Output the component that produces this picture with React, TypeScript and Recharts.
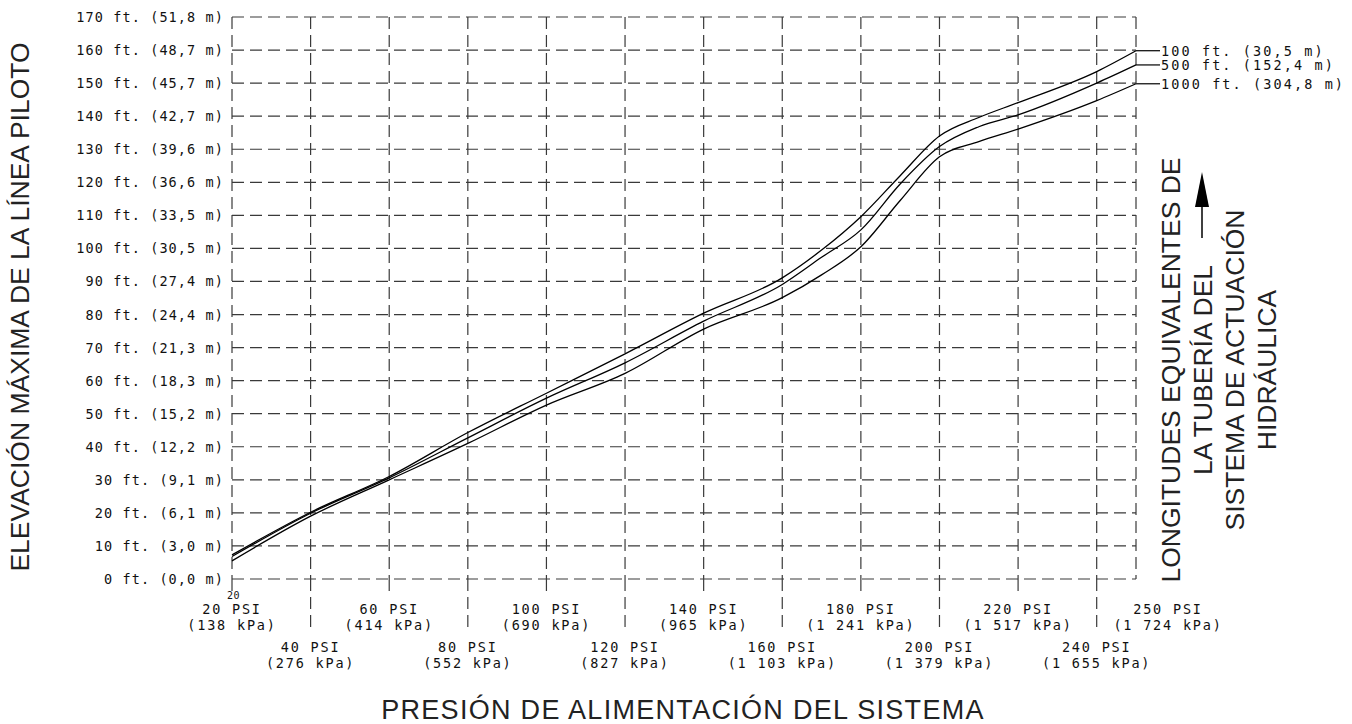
import { LineChart, Line, XAxis, YAxis, CartesianGrid } from 'recharts'

// presión de alimentación (PSI) y elevación máxima (ft) para cada longitud de tubería
const PSI = [20, 40, 60, 80, 100, 120, 140, 160, 170, 180, 190, 200, 210, 220, 240, 250]
const ELEV_100FT = [7.3, 20.2, 31.0, 44.3, 56.2, 68.1, 80.4, 91.1, 99.5, 109.6, 122.0, 134.0, 139.6, 144.1, 153.5, 159.8]
const ELEV_500FT = [6.8, 19.9, 30.6, 42.7, 54.7, 65.4, 78.0, 89.1, 97.3, 105.6, 119.5, 130.8, 136.8, 140.4, 150.0, 155.5]
const ELEV_1000FT = [5.5, 19.0, 30.0, 41.0, 52.6, 62.2, 75.6, 85.1, 92.0, 100.5, 114.5, 127.7, 132.3, 136.1, 144.7, 149.8]

const SERIES_LABELS = ['100 ft. (30,5 m)', '500 ft. (152,4 m)', '1000 ft. (304,8 m)']

const X_TICKS = [20, 40, 60, 80, 100, 120, 140, 160, 180, 200, 220, 240, 250]
const X_PSI_LABELS = [
  '20 PSI', '40 PSI', '60 PSI', '80 PSI', '100 PSI', '120 PSI', '140 PSI',
  '160 PSI', '180 PSI', '200 PSI', '220 PSI', '240 PSI', '250 PSI',
]
const X_KPA_LABELS = [
  '(138 kPa)', '(276 kPa)', '(414 kPa)', '(552 kPa)', '(690 kPa)', '(827 kPa)', '(965 kPa)',
  '(1 103 kPa)', '(1 241 kPa)', '(1 379 kPa)', '(1 517 kPa)', '(1 655 kPa)', '(1 724 kPa)',
]

const Y_TICKS = [0, 10, 20, 30, 40, 50, 60, 70, 80, 90, 100, 110, 120, 130, 140, 150, 160, 170]
const Y_LABELS = [
  '0 ft. (0,0 m)', '10 ft. (3,0 m)', '20 ft. (6,1 m)', '30 ft. (9,1 m)', '40 ft. (12,2 m)',
  '50 ft. (15,2 m)', '60 ft. (18,3 m)', '70 ft. (21,3 m)', '80 ft. (24,4 m)', '90 ft. (27,4 m)',
  '100 ft. (30,5 m)', '110 ft. (33,5 m)', '120 ft. (36,6 m)', '130 ft. (39,6 m)', '140 ft. (42,7 m)',
  '150 ft. (45,7 m)', '160 ft. (48,7 m)', '170 ft. (51,8 m)',
]

const RIGHT_TITLE = ['LONGITUDES EQUIVALENTES DE', 'LA TUBERÍA DEL', 'SISTEMA DE ACTUACIÓN', 'HIDRÁULICA']

const W = 1352
const H = 724
const CAD_FONT = '"DejaVu Sans Mono", monospace'
const TITLE_FONT = '"Liberation Sans", Arial, sans-serif'
const GRID = '#3a3a3a'
const DASH = '12 6'

const data = PSI.map((p, i) => ({
  psi: p,
  l100: ELEV_100FT[i],
  l500: ELEV_500FT[i],
  l1000: ELEV_1000FT[i],
}))

const cadText = { fontFamily: CAD_FONT, fontSize: 13.5, fill: '#111' }

function XTick(props: any) {
  const { x, y, payload } = props
  const idx = X_TICKS.indexOf(payload.value)
  const lower = idx % 2 === 1
  const last = idx === X_TICKS.length - 1
  const cx = last ? x + 32 : x
  const base = lower ? y + 73 : y + 35
  return (
    <g>
      {!last && (
        <line x1={x} y1={y} x2={x} y2={y + (lower ? 54 : 18)} stroke={GRID} strokeWidth={1.2} strokeDasharray={DASH} />
      )}
      {idx === 0 && (
        <text x={x - 5} y={y + 20} letterSpacing={0.5} style={{ ...cadText, fontSize: 10 }}>20</text>
      )}
      <text x={cx} y={base} textAnchor="middle" letterSpacing={1.8} style={cadText}>{X_PSI_LABELS[idx]}</text>
      <text x={cx} y={base + 16} textAnchor="middle" letterSpacing={1.8} style={cadText}>{X_KPA_LABELS[idx]}</text>
    </g>
  )
}

function YTick(props: any) {
  const { x, y, payload } = props
  const idx = Y_TICKS.indexOf(payload.value)
  return (
    <text x={x} y={y + 5} textAnchor="end" letterSpacing={1.1} style={cadText}>{Y_LABELS[idx]}</text>
  )
}

function endLabel(text: string) {
  return (props: any) => {
    const { x, y, index } = props
    if (index !== PSI.length - 1) return null
    return (
      <g>
        <line x1={x} y1={y} x2={x + 24} y2={y} stroke="#000" strokeWidth={1.2} />
        <text x={x + 25} y={y + 5} letterSpacing={2.1} style={cadText}>{text}</text>
      </g>
    )
  }
}

export default function App() {
  return (
    <div style={{ position: 'absolute', left: 0, top: 0, width: W, height: H, background: '#fff' }}>
      <LineChart width={W} height={H} data={data} margin={{ top: 17, right: 216, left: 82, bottom: 45 }}>
        <CartesianGrid stroke={GRID} strokeWidth={1.2} strokeDasharray={DASH} />
        <XAxis
          dataKey="psi"
          type="number"
          domain={[20, 250]}
          ticks={X_TICKS}
          interval={0}
          height={100}
          axisLine={false}
          tickLine={false}
          tickSize={0}
          tickMargin={0}
          tick={<XTick />}
        />
        <YAxis
          type="number"
          domain={[0, 170]}
          ticks={Y_TICKS}
          interval={0}
          width={150}
          axisLine={false}
          tickLine={false}
          tick={<YTick />}
        />
        <Line type="monotone" dataKey="l100" stroke="#000" strokeWidth={1.3} dot={false} isAnimationActive={false} label={endLabel(SERIES_LABELS[0])} />
        <Line type="monotone" dataKey="l500" stroke="#000" strokeWidth={1.3} dot={false} isAnimationActive={false} label={endLabel(SERIES_LABELS[1])} />
        <Line type="monotone" dataKey="l1000" stroke="#000" strokeWidth={1.3} dot={false} isAnimationActive={false} label={endLabel(SERIES_LABELS[2])} />
      </LineChart>
      <svg width={W} height={H} style={{ position: 'absolute', left: 0, top: 0, pointerEvents: 'none' }}>
        <text
          transform="translate(29, 307) rotate(-90)"
          textAnchor="middle"
          style={{ fontFamily: TITLE_FONT, fontSize: 26.5, fill: '#222' }}
        >
          ELEVACIÓN MÁXIMA DE LA LÍNEA PILOTO
        </text>
        <text
          x={683}
          y={719}
          textAnchor="middle"
          letterSpacing={1.3}
          style={{ fontFamily: TITLE_FONT, fontSize: 27, fill: '#222' }}
        >
          PRESIÓN DE ALIMENTACIÓN DEL SISTEMA
        </text>
        {RIGHT_TITLE.map((t, i) => (
          <text
            key={t}
            transform={`translate(${1180 + i * 32}, 370) rotate(-90)`}
            textAnchor="middle"
            style={{ fontFamily: TITLE_FONT, fontSize: 26.5, fill: '#222' }}
          >
            {t}
          </text>
        ))}
        <line x1={1202} y1={238} x2={1202} y2={200} stroke="#000" strokeWidth={1.5} />
        <polygon points="1202,172 1195,207 1209,207" fill="#000" />
      </svg>
    </div>
  )
}
